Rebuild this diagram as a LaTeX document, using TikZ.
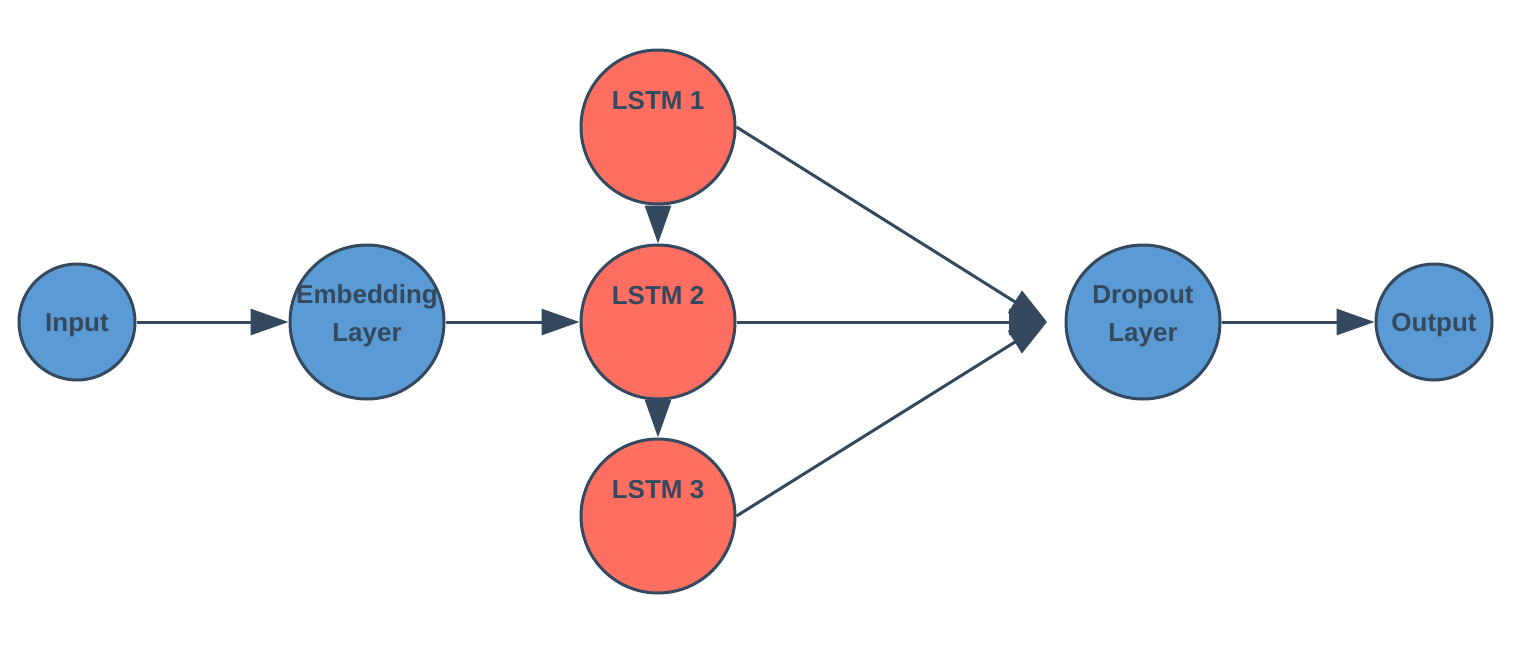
\documentclass[tikz,border=0pt]{standalone}
\usepackage{fontspec}
\setmainfont{Liberation Sans}
\usetikzlibrary{arrows.meta}
\definecolor{edgec}{HTML}{34495E}
\definecolor{bluef}{HTML}{5B9BD5}
\definecolor{redf}{HTML}{FF6F61}
\tikzset{
  layer/.style={circle, draw=edgec, line width=3pt, fill=bluef, inner sep=0pt,
    minimum size=#1},
  lstm/.style={circle, draw=edgec, line width=3pt, fill=redf, inner sep=0pt,
    minimum size=154pt},
  lbl/.style={font=\fontsize{26}{38}\selectfont\bfseries, text=edgec, inner sep=0pt},
  conn/.style={draw=edgec, line width=3pt, -{Triangle[length=38pt,width=26pt]}},
}
\begin{document}
\begin{tikzpicture}[x=1pt,y=-1pt]
\useasboundingbox (0,0) rectangle (1516,665);
\node[layer=116pt] (in) at (77,322) {};
\node[layer=154pt] (emb) at (367,322) {};
\node[lstm] (l1) at (658,127) {};
\node[lstm] (l2) at (658,322) {};
\node[lstm] (l3) at (658,516) {};
\node[layer=154pt] (drop) at (1143,322) {};
\node[layer=116pt] (out) at (1434,322) {};
\node[lbl] (tin) at (77,325) {Input};
\node[lbl] (temb1) at (367,297) {Embedding};
\node[lbl] (temb2) at (367,335) {Layer};
\node[lbl] (t1) at (658,101) {LSTM 1};
\node[lbl] (t2) at (658,296) {LSTM 2};
\node[lbl] (t3) at (658,490) {LSTM 3};
\node[lbl] (tdr1) at (1143,297) {Dropout};
\node[lbl] (tdr2) at (1143,335) {Layer};
\node[lbl] (tout) at (1434,325) {Output};
\coordinate (conv) at (1047,322);
\draw[conn] (in) -- (emb);
\draw[conn] (emb) -- (l2);
\draw[conn] (l1) -- (l2);
\draw[conn] (l2) -- (l3);
\draw[conn] (l1.east) -- (conv);
\draw[conn] (l2.east) -- (conv);
\draw[conn] (l3.east) -- (conv);
\draw[conn] (drop) -- (out);
\end{tikzpicture}
\end{document}
